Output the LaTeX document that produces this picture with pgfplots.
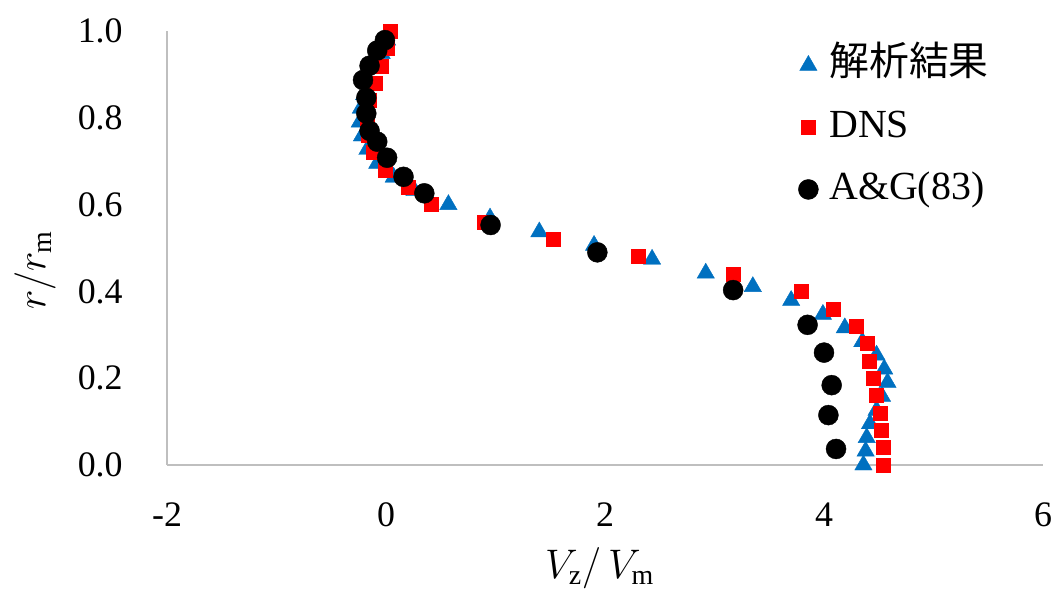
\documentclass[border=0pt]{standalone}
\usepackage{pgfplots}
\pgfplotsset{compat=1.18}
\usepackage{fontspec}
\setmainfont{Liberation Serif}
\newfontfamily\jpfont{Noto Sans CJK JP}
\definecolor{xlblue}{HTML}{0070C0}
\definecolor{xlred}{HTML}{FF0000}
\definecolor{axgray}{HTML}{BFBFBF}

% velocity profiles: V_z/V_m against r/r_m
\pgfplotstableread{
x y
4.36 0.000
4.38 0.032
4.39 0.063
4.42 0.095
4.48 0.126
4.53 0.158
4.58 0.190
4.55 0.221
4.48 0.253
4.35 0.284
4.19 0.316
3.99 0.347
3.70 0.379
3.35 0.411
2.92 0.442
2.43 0.474
1.90 0.506
1.40 0.537
0.95 0.569
0.57 0.600
0.26 0.632
0.07 0.663
-0.08 0.695
-0.17 0.727
-0.22 0.758
-0.24 0.790
-0.23 0.822
-0.20 0.853
-0.16 0.885
-0.10 0.916
-0.04 0.948
0.01 0.979
}\analysis

\pgfplotstableread{
x y
0.035 1.00
0.01 0.96
-0.04 0.92
-0.10 0.88
-0.15 0.84
-0.17 0.80
-0.16 0.76
-0.12 0.72
-0.01 0.68
0.20 0.64
0.41 0.60
0.90 0.56
1.53 0.52
2.30 0.48
3.17 0.44
3.79 0.40
4.08 0.36
4.29 0.32
4.39 0.28
4.41 0.24
4.45 0.20
4.48 0.16
4.51 0.12
4.52 0.08
4.54 0.04
4.54 0.00
}\dns

\pgfplotstableread{
x y
-0.01 0.979
-0.08 0.955
-0.15 0.920
-0.21 0.887
-0.18 0.846
-0.18 0.810
-0.15 0.770
-0.08 0.745
0.01 0.708
0.16 0.664
0.35 0.626
0.955 0.553
1.93 0.490
3.17 0.403
3.85 0.323
4.00 0.259
4.07 0.184
4.04 0.115
4.11 0.037
}\ag

\begin{document}
\begin{tikzpicture}
\begin{axis}[
  name=ax,
  scale only axis, width=438bp, height=217bp,
  xmin=-2, xmax=6, ymin=0, ymax=1,
  axis x line*=bottom, axis y line*=left,
  axis line style={-, draw=axgray, line width=1bp},
  xtick={-2,0,2,4,6}, xticklabels={-2,0,2,4,6},
  ytick={0,0.2,0.4,0.6,0.8,1}, yticklabels={0.0,0.2,0.4,0.6,0.8,1.0},
  major tick length=0pt,
  tick label style={font=\fontsize{18}{20}\selectfont},
  xticklabel style={anchor=center, yshift=-25bp},
  yticklabel style={anchor=east, inner sep=0pt, xshift=-22bp},
  xlabel={$V_{\mathrm{z}}/\,V_{\mathrm{m}}$},
  ylabel={$r/r_{\mathrm{m}}$},
  label style={font=\fontsize{20}{24}\selectfont},
  x label style={at={(axis description cs:0.494,-0.238)}, anchor=center},
  y label style={at={(axis description cs:-0.1507,0.449)}, anchor=center},
  clip=false,
  legend cell align=left,
  legend image code/.code={\draw[#1] plot coordinates {(0bp,0bp)};},
  legend style={draw=none, fill=none, inner sep=0pt, row sep=0pt,
    at={(rel axis cs:0.7203,0.993)}, anchor=north west,
    font=\fontsize{20}{24}\selectfont,
    nodes={inner ysep=6.5bp, inner xsep=5.5bp, text height=14bp, text depth=4bp}},
]
\addplot[xlblue, only marks, mark=triangle*, mark size=5bp,
  mark options={fill=xlblue, draw=xlblue, line width=0.2bp}] table[x=x,y=y] {\analysis};
\addlegendentry{{\jpfont 解析結果}}
\addplot[xlred, only marks, mark=square*, mark size=3.5bp,
  mark options={fill=xlred, draw=xlred, line width=0.2bp}] table[x=x,y=y] {\dns};
\addlegendentry{DNS}
\addplot[black, only marks, mark=*, mark size=5bp,
  mark options={fill=black, draw=black, line width=0.2bp}] table[x=x,y=y] {\ag};
\addlegendentry{A\&G(83)}
\end{axis}
\pgfresetboundingbox
\path[use as bounding box] ([shift={(-83.5bp,-61.5bp)}]ax.south west)
  rectangle ([shift={(5bp,15.5bp)}]ax.north east);
\end{tikzpicture}
\end{document}
